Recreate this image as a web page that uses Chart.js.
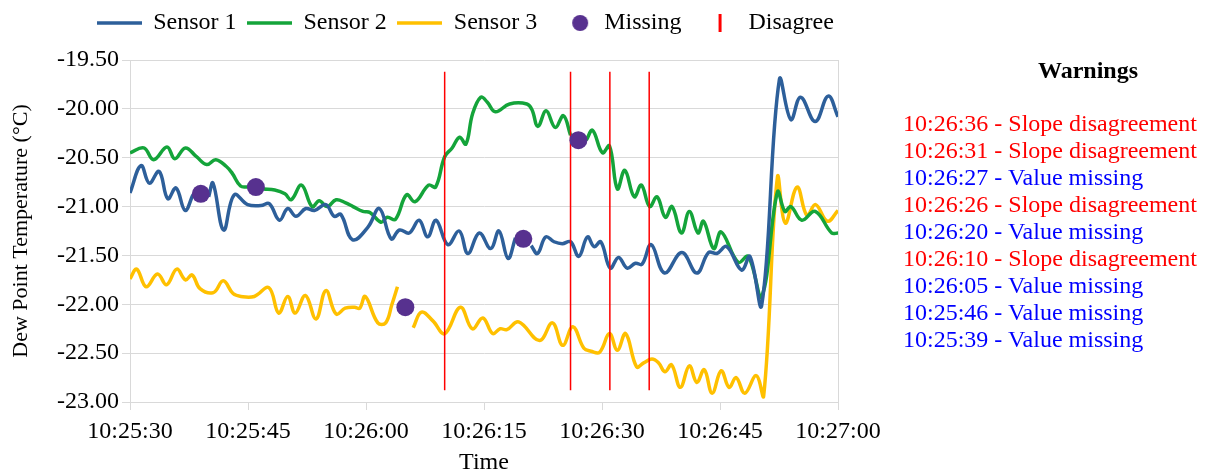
<!DOCTYPE html>
<html>
<head>
<meta charset="utf-8">
<title>Dew Point Sensors</title>
<script src="https://cdn.jsdelivr.net/npm/chart.js@4.4.1/dist/chart.umd.min.js"></script>
<style>
  html, body { margin: 0; padding: 0; background: #fff; }
  #wrap { position: relative; width: 1209px; height: 475px; font-family: "Liberation Serif", "Times New Roman", serif; color: #000; }
  #chartBox { position: absolute; left: 0; top: 0; width: 1209px; height: 475px; }
  #warnTitle { position: absolute; left: 988px; width: 200px; top: 56px; text-align: center; font-weight: bold; font-size: 24px; line-height: 28px; }
  #warnList { position: absolute; left: 903px; top: 110px; font-size: 24px; line-height: 27px; white-space: nowrap; }
  .w-slope { color: #ff0000; }
  .w-missing { color: #0000ff; }
</style>
</head>
<body>
<div id="wrap">
  <div id="chartBox"><canvas id="chart"></canvas></div>
  <div id="warnTitle">Warnings</div>
  <div id="warnList"></div>
</div>
<script>
// Seconds are counted from 10:25:30.
const startClock = [10, 25, 30];

// Sensor 1
const s1Sec = [0, 1.4, 2.45, 3.7, 4.8, 5.85, 7.0, 8, 9, 10, 10.55, 11.9, 13.25, 14.95, 16.65, 17.7, 19.0, 20.05, 21.1, 22.35, 23.45, 24.9, 25.95, 26.8, 28.3, 30.25, 31.7, 33.2, 34.25, 35.5, 36.75, 37.85, 38.9, 40.4, 41.85, 42.95, 44.4, 45.85, 46.9, 48.05, 49, 50, 51, 51.8, 52.85, 53.9, 54.95, 56.0, 57.05, 58.15, 59.0, 59.85, 61.05, 62.1, 63.2, 64.25, 65.1, 66.25, 67.95, 70.15, 72.05, 73.55, 74.6, 75.85, 77.75, 78.8, 80.3, 82.55, 84.0, 85.25, 87.1, 88.75, 90];
const s1Dew = [-20.86, -20.58, -20.76, -20.64, -20.92, -20.81, -21.04, -20.88, null, -20.9, -20.76, -21.24, -20.88, -20.98, -20.99, -20.97, -21.14, -21.02, -21.10, -21.02, -21.04, -20.98, -21.10, -21.08, -21.34, -21.21, -21.02, -21.33, -21.24, -21.27, -21.14, -21.31, -21.14, -21.39, -21.25, -21.48, -21.27, -21.43, -21.25, -21.53, -21.32, null, -21.40, -21.48, -21.31, -21.36, -21.38, -21.36, -21.51, -21.31, -21.41, -21.36, -21.63, -21.52, -21.63, -21.58, -21.59, -21.39, -21.68, -21.47, -21.68, -21.47, -21.48, -21.41, -21.65, -21.51, -22.01, -19.70, -20.11, -19.88, -20.13, -19.87, -20.08];

// Sensor 2
const s2Sec = [0, 1.75, 3.0, 4.7, 5.7, 7.05, 8.45, 9.75, 10.9, 12.25, 13.0, 14.05, 15, 16, 17, 18.4, 19.7, 20.5, 21.8, 23.15, 24.05, 25.05, 26.2, 27.35, 28.35, 29.6, 30.5, 31.9, 32.7, 33.75, 35.15, 36.25, 37.95, 38.85, 40.0, 40.95, 41.9, 42.7, 43.55, 44.6, 45.4, 46.45, 48.25, 50.45, 51.1, 51.85, 52.9, 54.05, 55.1, 56, 57, 58, 58.8, 60.05, 60.95, 61.95, 62.9, 64.1, 65.0, 66.05, 67.0, 68.05, 68.9, 70.1, 71.1, 72.2, 72.9, 74.2, 75.15, 77.3, 78.6, 80.3, 82.3, 83.25, 84.0, 85.4, 87.1, 89.2, 90];
const s2Dew = [-20.45, -20.40, -20.52, -20.39, -20.51, -20.40, -20.49, -20.57, -20.52, -20.59, -20.66, -20.79, -20.80, null, -20.82, -20.83, -20.87, -20.93, -20.78, -21.00, -20.94, -21.00, -20.93, -20.96, -21.00, -21.05, -21.06, -21.16, -21.11, -21.13, -20.88, -20.95, -20.78, -20.80, -20.49, -20.40, -20.29, -20.36, -20.05, -19.88, -19.93, -20.03, -19.95, -19.95, -20.01, -20.18, -20.02, -20.19, -20.07, -20.27, null, -20.32, -20.22, -20.45, -20.38, -20.82, -20.63, -20.90, -20.78, -21.00, -20.90, -21.11, -21.00, -21.27, -21.05, -21.27, -21.15, -21.43, -21.26, -21.57, -21.51, -21.92, -20.85, -21.05, -21.00, -21.14, -21.05, -21.27, -21.27];

// Sensor 3
const s3Sec = [0, 0.85, 2.05, 3.5, 4.65, 5.95, 7.05, 7.9, 8.9, 10.6, 11.85, 13.1, 14.1, 15.8, 17.65, 18.9, 20.05, 21.0, 22.3, 23.65, 24.9, 26.2, 27.35, 28.55, 29.2, 29.9, 31.5, 32.5, 33.3, 34, 35, 36, 37.05, 38.5, 40.0, 42.0, 43.5, 44.85, 46.1, 47.05, 47.9, 49.4, 52.05, 53.7, 55.0, 56.3, 57.7, 58.6, 59.7, 60.95, 61.95, 63.0, 64.4, 65.3, 66.35, 67.2, 68.0, 68.85, 69.95, 71.1, 72.05, 73.0, 74.0, 75.15, 76.15, 77.05, 78.15, 79.6, 80.55, 82.3, 83.3, 84.8, 86.05, 87.15, 88.65, 90];
const s3Dew = [-21.74, -21.64, -21.82, -21.69, -21.80, -21.64, -21.75, -21.70, -21.84, -21.88, -21.76, -21.89, -21.92, -21.92, -21.83, -22.09, -21.92, -22.09, -21.91, -22.15, -21.86, -22.10, -22.04, -22.03, -22.04, -21.92, -22.19, -22.19, -22.00, -21.82, null, -22.24, -22.08, -22.17, -22.30, -22.03, -22.25, -22.14, -22.30, -22.25, -22.26, -22.18, -22.37, -22.19, -22.42, -22.23, -22.45, -22.48, -22.49, -22.30, -22.47, -22.30, -22.64, -22.60, -22.56, -22.60, -22.69, -22.62, -22.85, -22.63, -22.80, -22.67, -22.91, -22.68, -22.85, -22.75, -22.91, -22.73, -22.94, -20.70, -21.17, -20.80, -21.09, -20.98, -21.15, -21.04];

// Readings that never arrived, placed on the curve of their sensor
const missingSec = [9, 16, 35, 50, 57];
const missingDew = [-20.87, -20.80, -22.03, -21.33, -20.32];

// Moments where the sensor slopes disagree
const disagreeSec = [40, 56, 61, 66];
const disagreeSpan = [-19.62, -22.88];

// Axis settings
const yMin = -23, yMax = -19.5, yStep = 0.5;
const xMin = 0, xMax = 90, xStep = 15;

const colors = {
  s1: '#2d5f9a',
  s2: '#14a43a',
  s3: '#ffc000',
  missing: '#57318f',
  disagree: '#ff0000',
  grid: '#d9d9d9'
};

function clock(sec) {
  let t = startClock[0] * 3600 + startClock[1] * 60 + startClock[2] + Math.round(sec);
  const hh = Math.floor(t / 3600); t -= hh * 3600;
  const mm = Math.floor(t / 60);
  const ss = t - mm * 60;
  const p = n => String(n).padStart(2, '0');
  return p(hh) + ':' + p(mm) + ':' + p(ss);
}

function toPoints(secs, vals) {
  return secs.map((s, i) => ({ x: s, y: vals[i] }));
}

// Legend swatches
function lineSwatch(color) {
  const c = document.createElement('canvas');
  c.width = 45; c.height = 6;
  const g = c.getContext('2d');
  g.strokeStyle = color; g.lineWidth = 3.5;
  g.beginPath(); g.moveTo(0, 3); g.lineTo(45, 3); g.stroke();
  return c;
}
function dotSwatch(color) {
  const c = document.createElement('canvas');
  c.width = 44; c.height = 20;
  const g = c.getContext('2d');
  g.fillStyle = color;
  g.beginPath(); g.arc(32, 10, 8, 0, Math.PI * 2); g.fill();
  return c;
}
function barSwatch(color) {
  const c = document.createElement('canvas');
  c.width = 44; c.height = 20;
  const g = c.getContext('2d');
  g.fillStyle = color;
  g.fillRect(26, 1, 3, 18);
  return c;
}

const disagreePoints = [];
disagreeSec.forEach(s => {
  disagreePoints.push({ x: s, y: disagreeSpan[0] }, { x: s, y: disagreeSpan[1] }, { x: s, y: null });
});

const sensorLine = (label, secs, vals, color) => ({
  label,
  data: toPoints(secs, vals),
  borderColor: color,
  backgroundColor: color,
  borderWidth: 3.5,
  pointRadius: 0,
  tension: 0.4,
  spanGaps: false,
  order: 2,
  swatch: lineSwatch(color)
});

const legendRight = 931;   // right edge of the legend / top boxes
const plotRight = 838;     // right edge of the plot area

Chart.defaults.font.family = '"Liberation Serif", "Times New Roman", serif';
Chart.defaults.color = '#000';

new Chart(document.getElementById('chart'), {
  type: 'line',
  data: {
    datasets: [
      sensorLine('Sensor 1', s1Sec, s1Dew, colors.s1),
      sensorLine('Sensor 2', s2Sec, s2Dew, colors.s2),
      sensorLine('Sensor 3', s3Sec, s3Dew, colors.s3),
      {
        label: 'Missing',
        data: toPoints(missingSec, missingDew),
        showLine: false,
        pointRadius: 9,
        pointBorderWidth: 0,
        pointBackgroundColor: colors.missing,
        borderColor: colors.missing,
        backgroundColor: colors.missing,
        order: 0,
        swatch: dotSwatch(colors.missing)
      },
      {
        label: 'Disagree',
        data: disagreePoints,
        borderColor: colors.disagree,
        backgroundColor: colors.disagree,
        borderWidth: 1.5,
        pointRadius: 0,
        tension: 0,
        spanGaps: false,
        order: 1,
        swatch: barSwatch(colors.disagree)
      }
    ]
  },
  options: {
    responsive: true,
    maintainAspectRatio: false,
    animation: false,
    events: [],
    layout: { padding: { left: 0, right: 1209 - legendRight, top: 0, bottom: 0 } },
    plugins: {
      tooltip: { enabled: false },
      legend: {
        position: 'top',
        labels: {
          usePointStyle: true,
          pointStyleWidth: 44,
          boxHeight: 24,
          padding: 11,
          color: '#000',
          font: { size: 24 },
          generateLabels: chart => chart.data.datasets.map((ds, i) => ({
            text: ds.label,
            pointStyle: ds.swatch,
            fillStyle: 'rgba(0,0,0,0)',
            strokeStyle: 'rgba(0,0,0,0)',
            lineWidth: 0,
            hidden: false,
            datasetIndex: i
          }))
        }
      }
    },
    scales: {
      x: {
        type: 'linear',
        position: 'bottom',
        min: xMin, max: xMax,
        ticks: { stepSize: xStep, autoSkip: false, maxRotation: 0, padding: 7, font: { size: 24 }, color: '#000', callback: v => clock(v) },
        grid: { drawOnChartArea: false, tickLength: 8, color: colors.grid },
        border: { color: colors.grid },
        title: { display: true, text: 'Time', font: { size: 24 }, color: '#000', padding: { top: 0, bottom: -2 } },
        afterFit: s => { s.height = 73; }
      },
      xTop: {
        type: 'linear',
        position: 'top',
        min: xMin, max: xMax,
        ticks: { display: false },
        grid: { display: false },
        border: { display: false },
        afterFit: s => { s.height = 15; }
      },
      y: {
        min: yMin, max: yMax,
        ticks: { stepSize: yStep, padding: 3, font: { size: 24 }, color: '#000', callback: v => Number(v).toFixed(2) },
        grid: { color: colors.grid, tickLength: 8 },
        border: { color: colors.grid },
        title: { display: true, text: 'Dew Point Temperature (°C)', font: { size: 22 }, color: '#000', padding: { top: 8, bottom: 0 } },
        afterFit: s => { s.width = 130; }
      },
      yRight: {
        position: 'right',
        min: yMin, max: yMax,
        ticks: { display: false },
        grid: { drawOnChartArea: false, drawTicks: false },
        border: { color: colors.grid },
        afterFit: s => { s.width = legendRight - plotRight; }
      }
    }
  }
});

// Warning list, newest first
const warnings = []
  .concat(missingSec.map(s => ({ sec: s, text: 'Value missing', cls: 'w-missing' })))
  .concat(disagreeSec.map(s => ({ sec: s, text: 'Slope disagreement', cls: 'w-slope' })))
  .sort((a, b) => b.sec - a.sec);
const list = document.getElementById('warnList');
warnings.forEach(w => {
  const d = document.createElement('div');
  d.className = w.cls;
  d.textContent = clock(w.sec) + ' - ' + w.text;
  list.appendChild(d);
});
</script>
</body>
</html>
